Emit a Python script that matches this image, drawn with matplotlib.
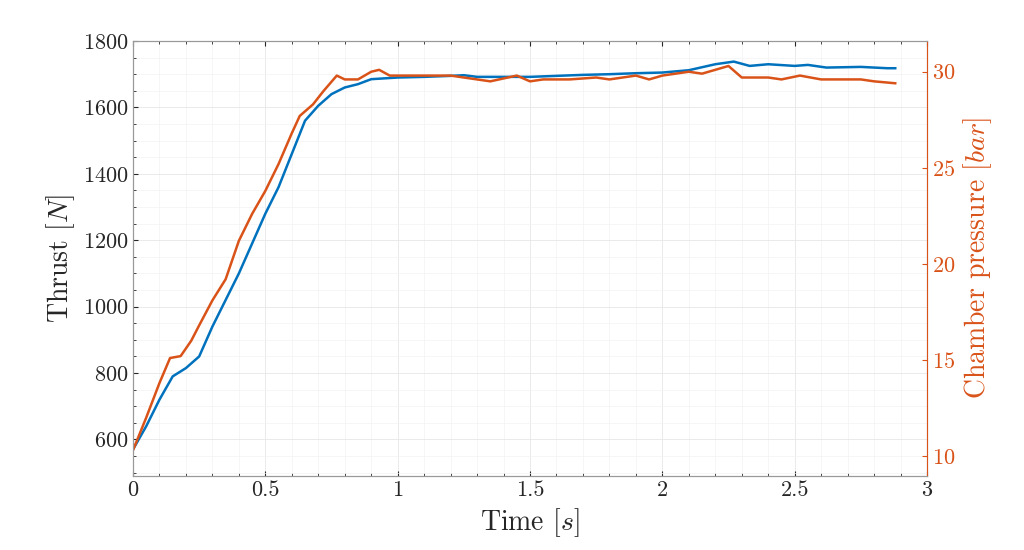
import matplotlib
matplotlib.use("Agg")
import matplotlib.pyplot as plt
from matplotlib.ticker import MultipleLocator, AutoMinorLocator, FormatStrFormatter

plt.rcParams['font.family'] = 'serif'
plt.rcParams['font.serif'] = ['cmr10', 'DejaVu Serif']
plt.rcParams['mathtext.fontset'] = 'cm'
plt.rcParams['axes.formatter.use_mathtext'] = True

t_thrust = [0, 0.05, 0.1, 0.15, 0.2, 0.25, 0.3, 0.35, 0.4, 0.45, 0.5, 0.55, 0.6, 0.65, 0.7,
            0.75, 0.8, 0.85, 0.9, 1.0, 1.1, 1.2, 1.25, 1.3, 1.5, 1.7, 1.8, 1.9, 2.0, 2.1,
            2.2, 2.27, 2.33, 2.4, 2.5, 2.55, 2.62, 2.75, 2.85, 2.88]
thrust = [570, 640, 720, 790, 815, 850, 940, 1020, 1100, 1190, 1280, 1360, 1460, 1560, 1605,
          1640, 1660, 1670, 1685, 1690, 1692, 1695, 1697, 1692, 1692, 1698, 1700, 1703, 1705, 1712,
          1730, 1738, 1725, 1730, 1725, 1728, 1720, 1722, 1718, 1718]

t_press = [0, 0.05, 0.1, 0.14, 0.18, 0.22, 0.25, 0.3, 0.35, 0.4, 0.45, 0.5, 0.55, 0.6, 0.63,
           0.68, 0.72, 0.77, 0.8, 0.85, 0.9, 0.93, 0.97, 1.0, 1.1, 1.2, 1.3, 1.35, 1.45, 1.5,
           1.55, 1.65, 1.75, 1.8, 1.9, 1.95, 2.0, 2.1, 2.15, 2.2, 2.25, 2.3, 2.4, 2.45, 2.52,
           2.6, 2.7, 2.75, 2.8, 2.88]
pressure = [10.3, 12.0, 13.8, 15.1, 15.2, 16.0, 16.8, 18.1, 19.2, 21.2, 22.6, 23.8, 25.2, 26.8, 27.7,
            28.3, 29.0, 29.8, 29.6, 29.6, 30.0, 30.1, 29.8, 29.8, 29.8, 29.8, 29.6, 29.5, 29.8, 29.5,
            29.6, 29.6, 29.7, 29.6, 29.8, 29.6, 29.8, 30.0, 29.9, 30.1, 30.3, 29.7, 29.7, 29.6, 29.8,
            29.6, 29.6, 29.6, 29.5, 29.4]

fig = plt.figure(figsize=(10.24, 5.5), dpi=100)
ax = fig.add_axes([133/1024, 1-476/550, (927-133)/1024, (476-41)/550])
blue, red = '#0072BD', '#D95319'
ax.plot(t_thrust, thrust, color=blue, lw=1.8)
ax.set_xlim(0, 3)
ax.set_ylim(490, 1800)
ax.xaxis.set_major_locator(MultipleLocator(0.5))
ax.xaxis.set_major_formatter(FormatStrFormatter('%g'))
ax.yaxis.set_major_locator(MultipleLocator(200))
ax.xaxis.set_minor_locator(AutoMinorLocator(5))
ax.yaxis.set_minor_locator(AutoMinorLocator(4))
ax.grid(which='major', color='#e6e6e6', lw=0.6)
ax.grid(which='minor', color='#f3f3f3', lw=0.5)
ax.set_axisbelow(True)
ax.set_xlabel(r'Time $[s]$', fontsize=20, color='#262626')
ax.set_ylabel(r'Thrust $[N]$', fontsize=20, color='#262626')
ax.tick_params(labelsize=16, direction='in', which='both', top=True, colors='#262626')
ax.tick_params(axis='y', which='both', right=False)
for s in ax.spines.values():
    s.set_color('#999999')

ax2 = ax.twinx()
ax2.plot(t_press, pressure, color=red, lw=1.8)
ax2.set_ylim(8.96, 31.6)
ax2.yaxis.set_major_locator(MultipleLocator(5))
ax2.set_ylabel(r'Chamber pressure $[bar]$', fontsize=20, color=red)
ax2.tick_params(labelsize=16, direction='in', colors=red)
ax2.spines['right'].set_color(red)
ax2.spines['left'].set_color('#999999')
ax2.spines['top'].set_color('#999999')
ax2.spines['bottom'].set_color('#999999')
fig.savefig('out.png', dpi=100)
